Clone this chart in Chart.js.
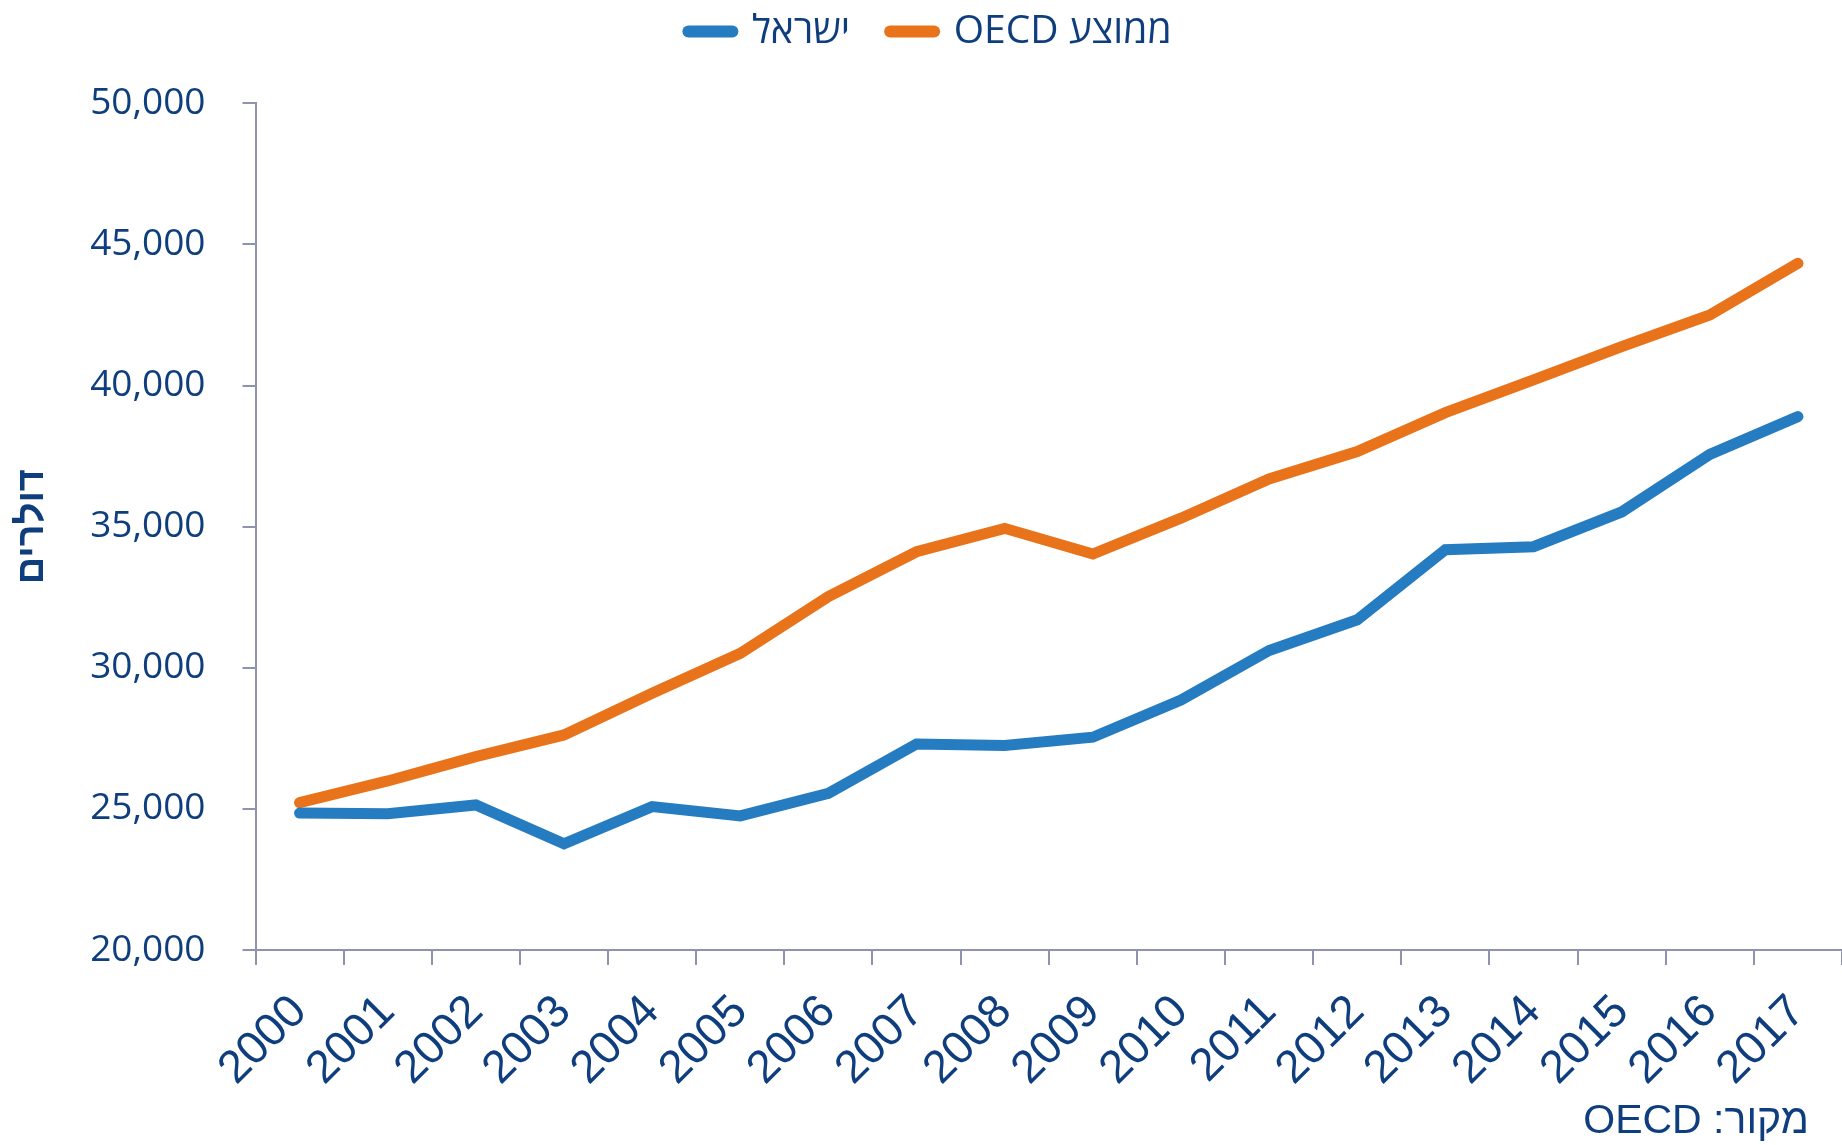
<!DOCTYPE html>
<html>
<head>
<meta charset="utf-8">
<script src="https://cdn.jsdelivr.net/npm/chart.js@4/dist/chart.umd.min.js"></script>
<style>
html, body { margin: 0; padding: 0; background: #ffffff; overflow: hidden; }
#wrap { width: 1842px; height: 1145px; }
</style>
</head>
<body>
<div id="wrap"><canvas id="c" width="1842" height="1145"></canvas></div>
<script>
// ---- data ----
const years = ['2000','2001','2002','2003','2004','2005','2006','2007','2008','2009',
               '2010','2011','2012','2013','2014','2015','2016','2017'];
const israel = [24850, 24830, 25140, 23760, 25080, 24750, 25550, 27300, 27250, 27540,
                28860, 30610, 31700, 34180, 34290, 35520, 37560, 38900];
const oecd   = [25220, 25990, 26850, 27620, 29100, 30510, 32520, 34110, 34940, 34030,
                35300, 36690, 37660, 39040, 40200, 41380, 42500, 44330];
const seriesNames = ['ישראל', 'ממוצע OECD'];
const yMin = 20000;
const yMax = 50000;
const yStep = 5000;
const yTitle = 'דולרים';
const sourceNote = 'מקור: OECD';

// ---- styles ----
const TEXT = '#0f3e7e';
const AXIS = '#8f93b0';
const BLUE = '#267cc0';
const ORANGE = '#e9731a';

const legendSpacer = {
  id: 'legendSpacer',
  beforeLayout(chart) {
    const lg = chart.legend;
    if (lg && !lg._spacerPatched) {
      const f = lg.fit;
      lg.fit = function () {
        f.call(this);
        this.height += 42.3;
        if (this.lineWidths && this.lineWidths.length) this.lineWidths[0] -= 18;
      };
      lg._spacerPatched = true;
    }
  }
};

const sourcePlugin = {
  id: 'sourceNote',
  afterDraw(chart) {
    const ctx = chart.ctx;
    ctx.save();
    ctx.font = '41px "Liberation Sans", Arial, sans-serif';
    ctx.fillStyle = TEXT;
    ctx.direction = 'rtl';
    ctx.textAlign = 'right';
    ctx.textBaseline = 'middle';
    ctx.fillText(sourceNote, 1809, 1122);
    ctx.restore();
  }
};

function makeDataset(label, values, color) {
  return {
    label: label,
    data: values,
    borderColor: color,
    backgroundColor: color,
    borderWidth: 11,
    borderCapStyle: 'round',
    borderJoinStyle: 'miter',
    pointRadius: 0,
    pointHoverRadius: 0,
    tension: 0,
    fill: false
  };
}

new Chart(document.getElementById('c'), {
  type: 'line',
  data: {
    labels: years,
    datasets: [
      makeDataset(seriesNames[0], israel, BLUE),
      makeDataset(seriesNames[1], oecd, ORANGE)
    ]
  },
  options: {
    responsive: false,
    devicePixelRatio: 1,
    animation: false,
    layout: { padding: { top: -28, left: 0, right: 0, bottom: 0 } },
    plugins: {
      tooltip: { enabled: false },
      legend: {
        display: true,
        position: 'top',
        align: 'center',
        rtl: false,
        textDirection: 'rtl',
        labels: {
          usePointStyle: true,
          pointStyle: 'line',
          pointStyleWidth: 44,
          padding: 40,
          color: TEXT,
          font: { family: '"Open Sans", "Liberation Sans", sans-serif', size: 39 },
          generateLabels(chart) {
            const items = Chart.defaults.plugins.legend.labels.generateLabels(chart);
            items.forEach((it) => { it.lineCap = 'round'; it.lineWidth = 12; });
            return items;
          }
        }
      }
    },
    scales: {
      x: {
        type: 'category',
        offset: true,
        grid: {
          display: true,
          offset: true,
          drawOnChartArea: false,
          drawTicks: true,
          tickLength: 15,
          tickWidth: 2,
          tickColor: AXIS,
          color: AXIS,
          lineWidth: 2
        },
        border: { display: true, color: AXIS, width: 2 },
        ticks: {
          color: TEXT,
          minRotation: 45,
          maxRotation: 45,
          autoSkip: false,
          padding: 20,
          font: { family: '"Liberation Sans", Arial, sans-serif', size: 46 }
        },
        afterFit(scale) {
          scale.height = 195;
          scale.paddingLeft = 0;
          scale.paddingRight = 0;
        }
      },
      y: {
        min: yMin,
        max: yMax,
        grid: {
          display: true,
          drawOnChartArea: false,
          drawTicks: true,
          tickLength: 13,
          tickWidth: 2,
          tickColor: AXIS,
          color: AXIS,
          lineWidth: 2
        },
        border: { display: true, color: AXIS, width: 2 },
        ticks: {
          stepSize: yStep,
          color: TEXT,
          padding: 37,
          font: { family: '"Open Sans", "Liberation Sans", sans-serif', size: 37 },
          callback: (v) => Number(v).toLocaleString('en-US')
        },
        title: {
          display: true,
          text: yTitle,
          color: TEXT,
          padding: { top: 10, bottom: 0 },
          font: { family: '"Liberation Sans", Arial, sans-serif', size: 38, weight: 'bold' }
        },
        afterFit(scale) {
          scale.width = 255.5;
        }
      }
    }
  },
  plugins: [legendSpacer, sourcePlugin]
});
</script>
</body>
</html>
